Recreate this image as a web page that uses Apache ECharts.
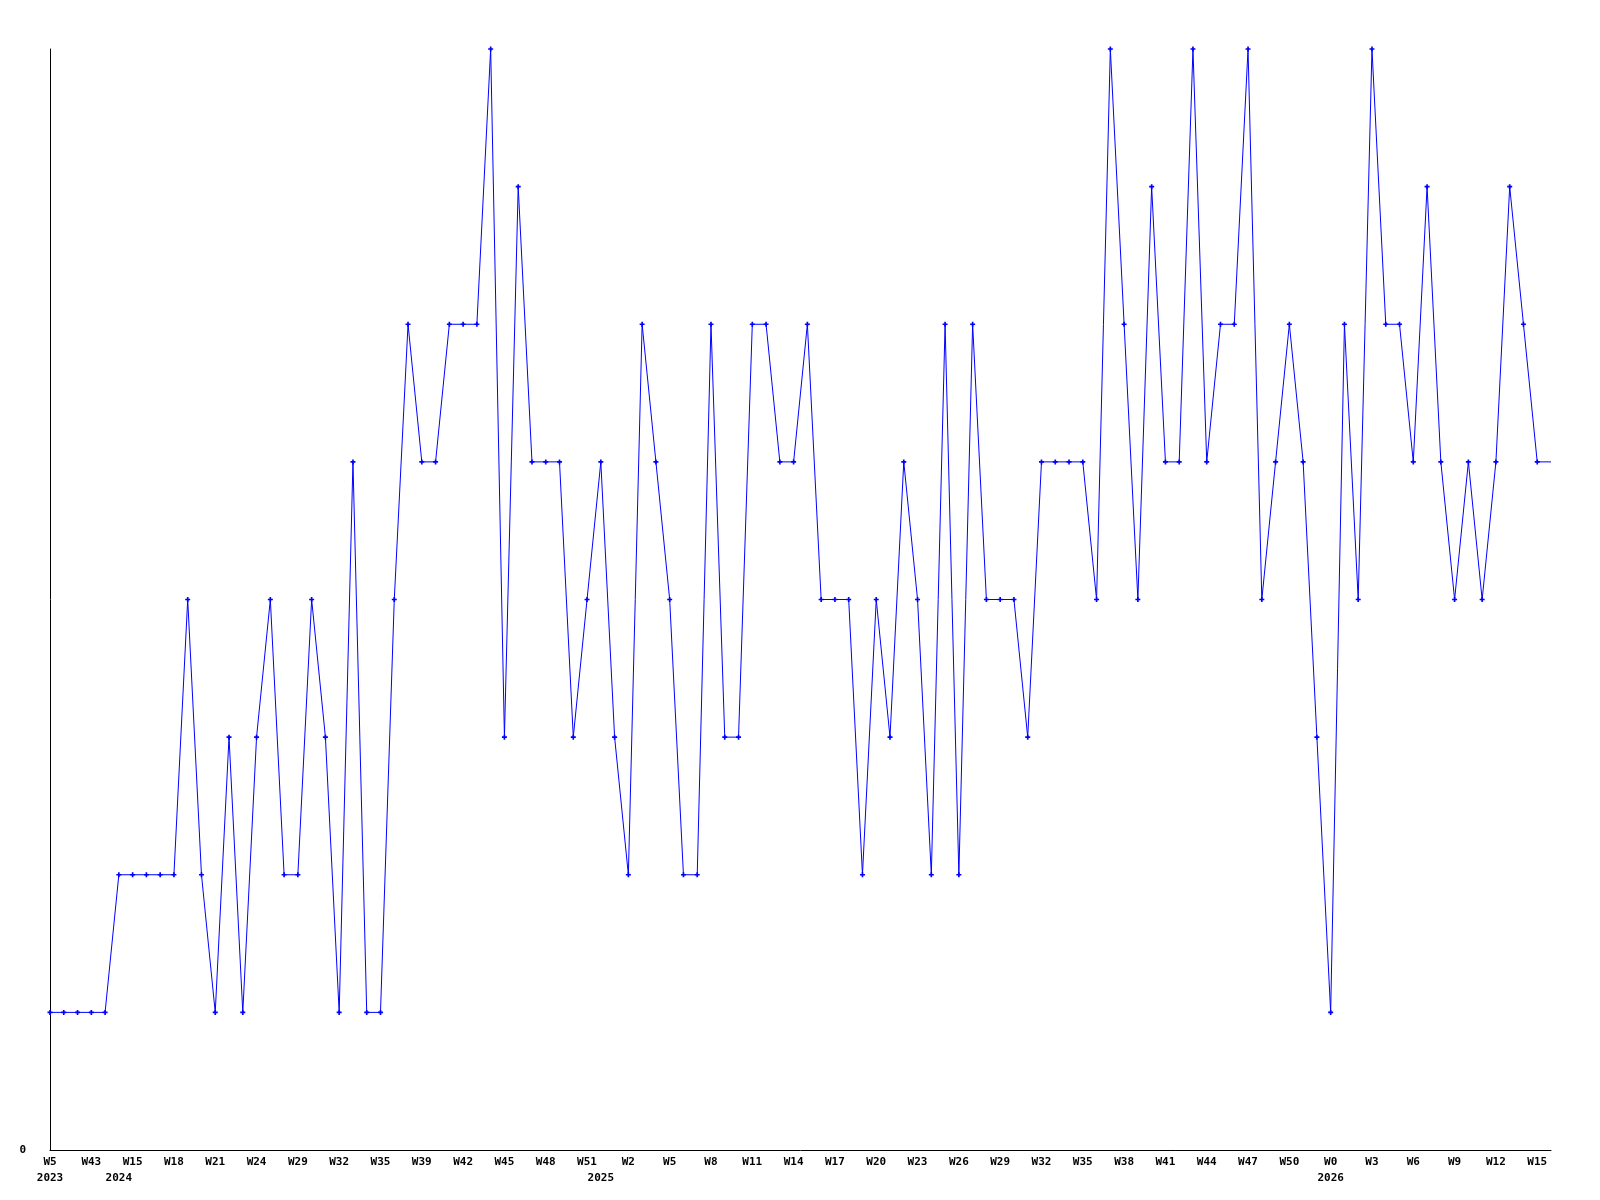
<!DOCTYPE html>
<html>
<head>
<meta charset="utf-8">
<script src="https://cdn.jsdelivr.net/npm/echarts@6/dist/echarts.min.js"></script>
<style>
html,body{margin:0;padding:0;background:#fff;}
#chart{width:1600px;height:1200px;}
</style>
</head>
<body>
<div id="chart"></div>
<script>
// Week labels shown under every third point
const tickLabels = ['W5','W43','W15','W18','W21','W24','W29','W32','W35','W39','W42','W45','W48','W51',
  'W2','W5','W8','W11','W14','W17','W20','W23','W26','W29','W32','W35','W38','W41','W44','W47','W50',
  'W0','W3','W6','W9','W12','W15'];
// Year labels and the point index each one is centred under
const yearNames = ['2023','2024','2025','2026'];
const yearPointIndex = [0, 5, 40, 93];
// Weekly values (last one is the trailing value drawn to the axis end without a marker)
const values = [1,1,1,1,1, 2,2,2,2,2, 4,2,1,3,1,3,4,2,2,4,
  3,1,5,1,1,4,6,5,5,6, 6,6,8,3,7,5,5,5,3,4,
  5,3,2,6,5,4,2,2,6,3, 3,6,6,5,5,6,4,4,4,2,
  4,3,5,4,2,6,2,6,4,4, 4,3,5,5,5,5,4,8,6,4,
  7,5,5,8,5,6,6,8,4,5, 6,5,3,1,6,4,8,6,6,5,
  7,5,4,5,4,5,7,6,5, 5];
const yLabels = ['0'];

const weekCats = values.map((v, i) => {
  if (i % 3 !== 0) return '';
  const t = i / 3;
  return t < tickLabels.length ? tickLabels[t] : '';
});
const yearCats = values.map((v, i) => {
  const yi = yearPointIndex.indexOf(i);
  return yi >= 0 ? yearNames[yi] : '';
});

const seriesData = values.map((v, i) => i === values.length - 1 ? {value: v, symbol: 'none'} : v);

const labelFont = {
  color: '#000',
  fontFamily: 'DejaVu Sans Mono',
  fontWeight: 'bold',
  fontSize: 11
};

const chart = echarts.init(document.getElementById('chart'), null, {renderer: 'canvas'});
chart.setOption({
  animation: false,
  backgroundColor: '#ffffff',
  grid: {left: 50, right: 49, top: 49, bottom: 50, containLabel: false},
  xAxis: [{
    type: 'category',
    data: weekCats,
    boundaryGap: false,
    axisLine: {show: true, lineStyle: {color: '#000', width: 1}},
    axisTick: {show: false},
    splitLine: {show: false},
    axisLabel: Object.assign({interval: 0, margin: 7, align: 'center'}, labelFont)
  }, {
    type: 'category',
    data: yearCats,
    position: 'bottom',
    boundaryGap: false,
    axisLine: {show: false},
    axisTick: {show: false},
    splitLine: {show: false},
    axisLabel: Object.assign({interval: 0, margin: 23, align: 'center'}, labelFont)
  }],
  yAxis: {
    type: 'value',
    min: 0,
    max: 8,
    interval: 8,
    axisLine: {show: true, lineStyle: {color: '#000', width: 1}},
    axisTick: {show: false},
    splitLine: {show: false},
    axisLabel: Object.assign({
      margin: 24,
      formatter: v => (v === 0 ? yLabels[0] : '')
    }, labelFont)
  },
  series: [{
    type: 'line',
    xAxisIndex: 0,
    data: seriesData,
    symbol: 'path://M2,0H4V2H6V4H4V6H2V4H0V2H2Z',
    symbolSize: 5,
    showAllSymbol: true,
    lineStyle: {color: '#0000ff', width: 1},
    itemStyle: {color: '#0000ff'}
  }]
});
</script>
</body>
</html>
